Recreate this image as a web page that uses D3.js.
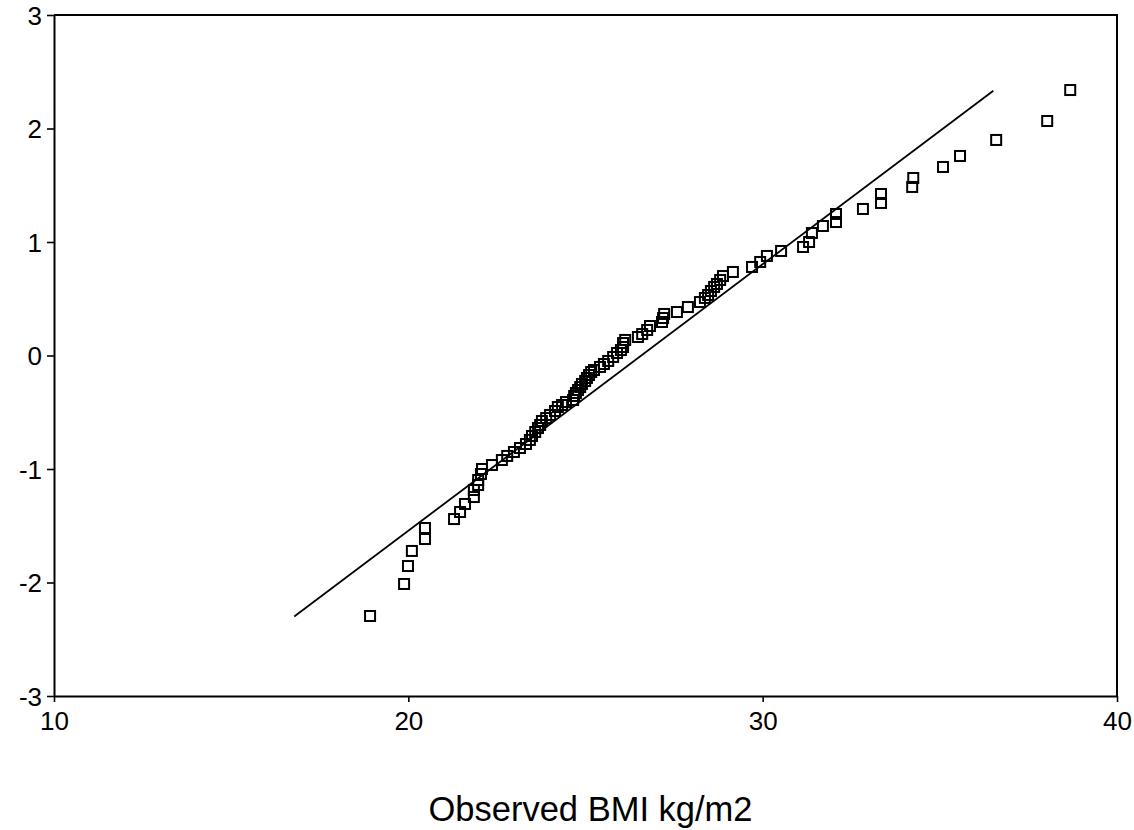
<!DOCTYPE html>
<html>
<head>
<meta charset="utf-8">
<script src="https://cdn.jsdelivr.net/npm/d3@7"></script>
<style>
  body { margin: 0; background: #fff; }
  svg { display: block; font-family: "Liberation Sans", Arial, sans-serif; }
</style>
</head>
<body>
<svg id="svg" width="1134" height="830"></svg>
<script>
// observed BMI (x) vs expected normal value (y)
const bmi = [18.92, 19.88, 19.99, 20.10, 20.47, 20.47, 21.29, 21.46, 21.60, 21.85,
  21.85, 21.97, 21.97, 22.05, 22.08, 22.36, 22.64, 22.79, 22.98, 23.15,
  23.32, 23.43, 23.49, 23.58, 23.66, 23.72, 23.77, 23.89, 24.00, 24.14,
  24.22, 24.34, 24.45, 24.65, 24.68, 24.73, 24.79, 24.85, 24.90, 24.99,
  25.04, 25.10, 25.16, 25.24, 25.41, 25.52, 25.64, 25.78, 25.89, 26.00,
  26.06, 26.06, 26.12, 26.48, 26.60, 26.74, 26.82, 27.16, 27.19, 27.22,
  27.58, 27.89, 28.23, 28.37, 28.46, 28.54, 28.63, 28.71, 28.80, 28.88,
  29.16, 29.70, 29.93, 30.12, 30.52, 31.14, 31.31, 31.39, 31.70, 32.07,
  32.07, 32.83, 33.34, 33.34, 34.22, 34.25, 35.09, 35.57, 36.59, 38.03, 38.68];
const expected = [-2.295, -2.013, -1.855, -1.722, -1.617, -1.520, -1.441, -1.379, -1.308, -1.247,
  -1.185, -1.141, -1.097, -1.044, -1.000, -0.965, -0.921, -0.885, -0.850, -0.815,
  -0.780, -0.744, -0.709, -0.674, -0.639, -0.612, -0.577, -0.551, -0.524, -0.489,
  -0.454, -0.436, -0.410, -0.392, -0.357, -0.330, -0.304, -0.278, -0.251, -0.225,
  -0.198, -0.172, -0.145, -0.128, -0.101, -0.075, -0.048, -0.013, 0.022, 0.048,
  0.075, 0.110, 0.137, 0.163, 0.189, 0.225, 0.260, 0.295, 0.330, 0.366,
  0.383, 0.427, 0.471, 0.507, 0.533, 0.568, 0.604, 0.630, 0.665, 0.700,
  0.736, 0.780, 0.824, 0.877, 0.921, 0.956, 1.000, 1.079, 1.141, 1.176,
  1.247, 1.291, 1.344, 1.423, 1.485, 1.564, 1.661, 1.758, 1.899, 2.066, 2.339];

// reference (normal) line end points
const refX = [16.78, 36.51];
const refY = [-2.30, 2.333];

const xTicks = [10, 20, 30, 40];
const yTicks = [-3, -2, -1, 0, 1, 2, 3];
const xLabel = "Observed BMI kg/m2";

const svg = d3.select("#svg");
const plotL = 54, plotR = 1117, plotT = 15, plotB = 696;

const x = d3.scaleLinear().domain([10, 40]).range([plotL, plotR]);
const y = d3.scaleLinear().domain([-3, 3]).range([plotB, plotT]);

// frame: top and right sides
svg.append("path")
  .attr("d", `M${plotL},${plotT}H${plotR}V${plotB}`)
  .attr("fill", "none").attr("stroke", "#000").attr("stroke-width", 2);

// y axis
const yAxisG = svg.append("g")
  .attr("transform", `translate(${plotL},0)`)
  .call(d3.axisLeft(y).tickValues(yTicks).tickSize(7).tickSizeOuter(0).tickFormat(d => String(d)));
// x axis
const xAxisG = svg.append("g")
  .attr("transform", `translate(0,${plotB})`)
  .call(d3.axisBottom(x).tickValues(xTicks).tickSize(6).tickSizeOuter(0).tickPadding(10).tickFormat(d => String(d)));

[yAxisG, xAxisG].forEach(g => {
  g.select(".domain").attr("stroke-width", 2);
  g.selectAll(".tick line").attr("stroke-width", 1.6);
  g.selectAll(".tick text")
    .attr("fill", "#000")
    .style("font-size", "26px")
    .style("font-family", "'Liberation Sans', Arial, sans-serif");
});
yAxisG.selectAll(".tick text").attr("dy", "0.36em").attr("x", -12);

// x title
svg.append("text")
  .attr("x", (plotL + plotR) / 2 + 5)
  .attr("y", 821)
  .attr("text-anchor", "middle")
  .style("font-size", "34.5px")
  .text(xLabel);

// reference line
const line = d3.line().x(d => x(d[0])).y(d => y(d[1]));
svg.append("path")
  .attr("d", line(d3.zip(refX, refY)))
  .attr("fill", "none").attr("stroke", "#000").attr("stroke-width", 1.8);

// data squares
const pts = d3.zip(bmi, expected);
const s = 10;
svg.append("g").selectAll("rect")
  .data(pts)
  .join("rect")
  .attr("x", d => x(d[0]) - s / 2)
  .attr("y", d => y(d[1]) - s / 2)
  .attr("width", s).attr("height", s)
  .attr("fill", "none")
  .attr("stroke", "#000")
  .attr("stroke-width", 2);
</script>
</body>
</html>
